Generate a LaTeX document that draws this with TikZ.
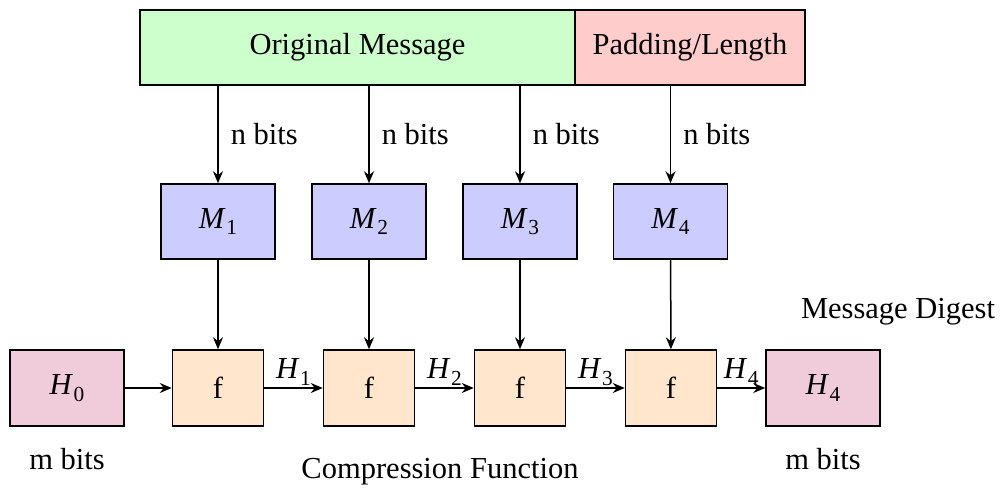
\documentclass[tikz,border=0pt]{standalone}
\usepackage{fontspec}
\setmainfont{LiberationSerif}[Extension=.ttf,UprightFont=*-Regular,ItalicFont=*-Italic,BoldFont=*-Bold,BoldItalicFont=*-BoldItalic]
\usetikzlibrary{arrows.meta}
\definecolor{msggreen}{RGB}{204,255,204}
\definecolor{padpink}{RGB}{255,204,204}
\definecolor{blockblue}{RGB}{204,204,255}
\definecolor{fbox}{RGB}{255,230,204}
\definecolor{hashbox}{RGB}{240,204,218}
% italic letter with an upright, lowered index
\newcommand{\idx}[2]{\textit{#1}\kern0.02em\raisebox{-0.22em}{\fontsize{10.7}{12}\selectfont #2}}
\begin{document}
\begin{tikzpicture}[x=0.5pt,y=-0.5pt,
  font=\rmfamily\fontsize{15.25}{18}\selectfont,
  boxbase/.style={draw,line width=0.75pt,inner sep=0pt,anchor=center},
  msgbar/.style={boxbase,minimum height=37.5pt},
  blockbox/.style={boxbase,fill=blockblue,minimum width=57pt,minimum height=37.5pt},
  funcbox/.style={boxbase,fill=fbox,minimum width=45.5pt,minimum height=38pt},
  hbox/.style={boxbase,fill=hashbox,minimum width=57pt,minimum height=38pt},
  conn/.style={line width=0.75pt,-{Stealth[length=6pt,width=5pt,inset=2pt]}},
  lbl/.style={inner sep=1pt}
]
\useasboundingbox (0,0) rectangle (1005,490);

% message split into the original part and the padding
\node[msgbar,fill=msggreen,minimum width=217.5pt] (orig) at (357.5,47.5) {Original Message};
\node[msgbar,fill=padpink,minimum width=115pt] (pad) at (690,47.5) {Padding/Length};

% message blocks
\node[blockbox] (m1) at (218,221.5) {\idx{M}{1}};
\node[blockbox] (m2) at (369,221.5) {\idx{M}{2}};
\node[blockbox] (m3) at (520,221.5) {\idx{M}{3}};
\node[blockbox] (m4) at (670.5,221.5) {\idx{M}{4}};

% compression stages
\node[hbox] (h0) at (67,388) {\idx{H}{0}};
\node[funcbox] (f1) at (218,388) {f};
\node[funcbox] (f2) at (369,388) {f};
\node[funcbox] (f3) at (520,388) {f};
\node[funcbox] (f4) at (671,388) {f};
\node[hbox] (h4) at (823,388) {\idx{H}{4}};

% split points on the bottom edge of the message bar
\coordinate (s1) at (orig.south -| m1);
\coordinate (s2) at (orig.south -| m2);
\coordinate (s3) at (orig.south -| m3);
\coordinate (s4) at (pad.south -| m4);

\draw[conn] (s1) -- node[lbl,right=5pt] {n bits} (m1);
\draw[conn] (s2) -- node[lbl,right=5pt] {n bits} (m2);
\draw[conn] (s3) -- node[lbl,right=5pt] {n bits} (m3);
\draw[conn] (s4) -- node[lbl,right=5pt] {n bits} (m4);

\draw[conn] (m1) -- (f1);
\draw[conn] (m2) -- (f2);
\draw[conn] (m3) -- (f3);
\draw[conn] (m4) -- (f4);

\draw[conn] (h0) -- (f1);
\draw[conn] (f1) -- node[lbl,above] {\idx{H}{1}} (f2);
\draw[conn] (f2) -- node[lbl,above] {\idx{H}{2}} (f3);
\draw[conn] (f3) -- node[lbl,above] {\idx{H}{3}} (f4);
\draw[conn] (f4) -- node[lbl,above] {\idx{H}{4}} (h4);

% captions
\node (mb0) at (67,459) {m bits};
\node (mb4) at (823,459) {m bits};
\node (cf) at (440,472) {Compression Function};
\node (md) at (898,312) {Message Digest};
\end{tikzpicture}
\end{document}
